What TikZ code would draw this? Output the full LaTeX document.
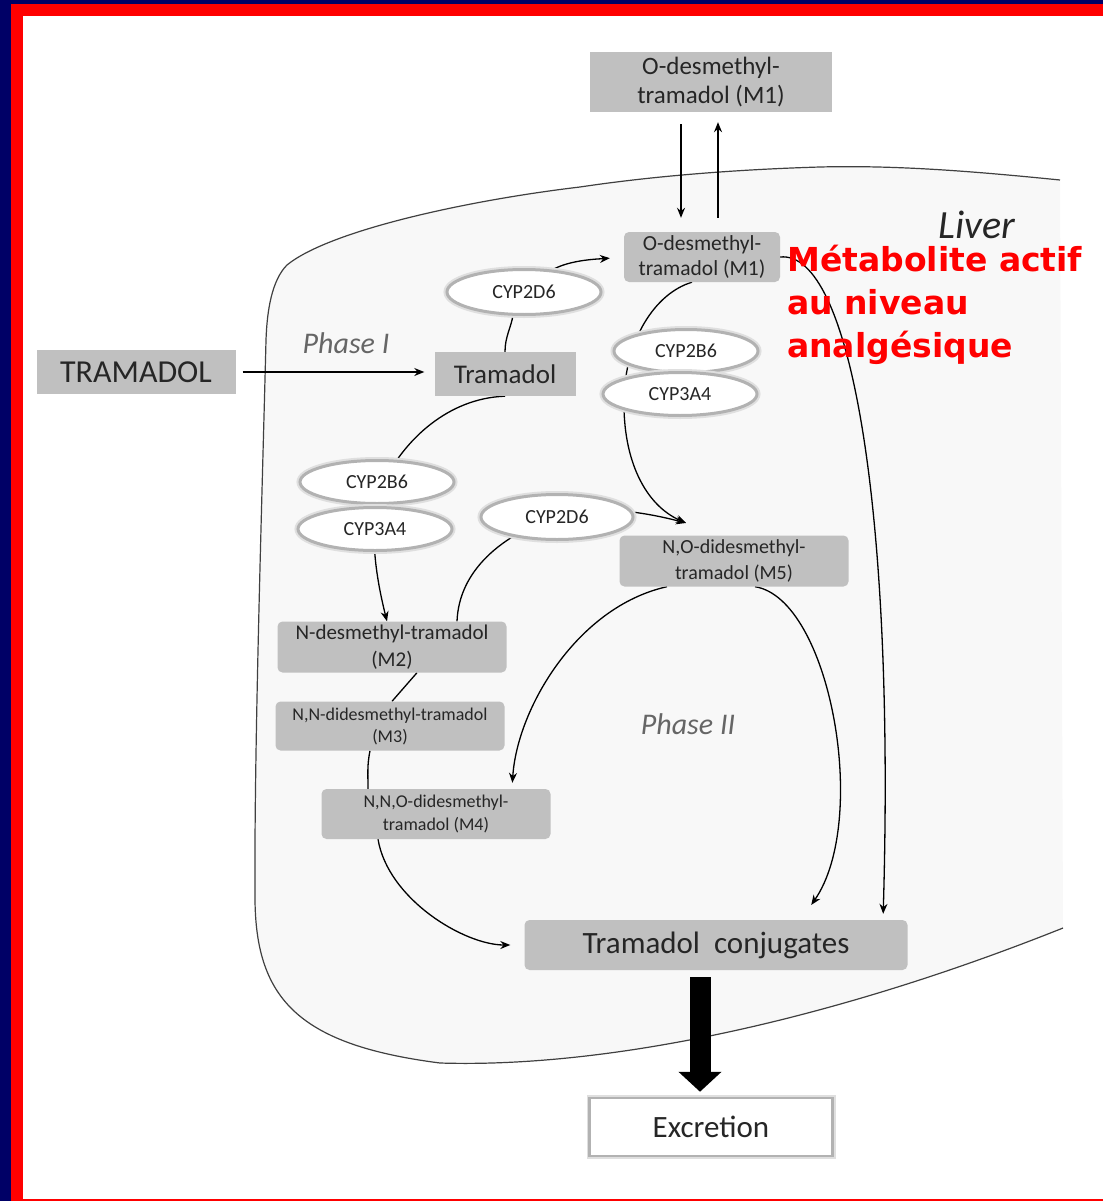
\documentclass[tikz,border=0pt]{standalone}
\usepackage{xcolor}
\usepackage{fontspec}
\setmainfont{Carlito}
\newfontfamily\redfont{DejaVu Sans}
\usepackage{tikz}
\usetikzlibrary{positioning,shapes.geometric,arrows.meta,backgrounds}

\definecolor{navy}{RGB}{0,0,102}
\definecolor{boxgray}{RGB}{192,192,192}
\definecolor{liverfill}{RGB}{248,248,248}

\begin{document}
\begin{tikzpicture}[x=1pt,y=-1pt,
    box/.style={fill=boxgray,text=black!85,inner sep=0pt,align=center},
    rbox/.style={box,rounded corners=5pt},
    enz/.style={ellipse,fill=white,draw=gray!60,line width=3pt,preaction={draw=gray!25,line width=7pt},
      inner sep=0pt,text=black!85,font=\fontsize{20}{24}\selectfont},
    arr/.style={line width=1.3pt,-{Stealth[length=10pt,width=8pt]}},
    lnk/.style={line width=1.3pt},
    phase/.style={text=black!60,font=\itshape\fontsize{30}{36}\selectfont}]
    \useasboundingbox (0,0) rectangle (1103,1201);

    \node [box,minimum width=199pt,minimum height=44pt,font=\fontsize{32}{38}\selectfont] (T0) at (136,372) {TRAMADOL};
    \node [box,minimum width=141pt,minimum height=44pt,font=\fontsize{27}{32}\selectfont] (T) at (505,374) {Tramadol};
    \node [box,minimum width=242pt,minimum height=60pt,font=\fontsize{25}{29}\selectfont] (M1o) at (711,82) {O-desmethyl-\\tramadol (M1)};
    \node [rbox,minimum width=156pt,minimum height=50pt,font=\fontsize{21.5}{25}\selectfont] (M1) at (702,257) {O-desmethyl-\\tramadol (M1)};
    \node [enz,minimum width=154pt,minimum height=45pt] (E1) at (524,292) {CYP2D6};
    \node [enz,minimum width=144pt,minimum height=43pt] (E2) at (686,351) {CYP2B6};
    \node [enz,minimum width=154pt,minimum height=43pt] (E3) at (680,394) {CYP3A4};
    \node [enz,minimum width=154pt,minimum height=43pt] (E4) at (377,482) {CYP2B6};
    \node [enz,minimum width=154pt,minimum height=43pt] (E5) at (375,529) {CYP3A4};
    \node [enz,minimum width=152pt,minimum height=45pt] (E6) at (557,517) {CYP2D6};
    \node [rbox,minimum width=229pt,minimum height=51pt,font=\fontsize{20}{26}\selectfont] (M5) at (734,561) {N,O-didesmethyl-\\tramadol (M5)};
    \node [rbox,minimum width=229pt,minimum height=51pt,font=\fontsize{21}{27}\selectfont] (M2) at (392,647) {N-desmethyl-tramadol\\(M2)};
    \node [rbox,minimum width=229pt,minimum height=49pt,font=\fontsize{18}{22}\selectfont] (M3) at (390,726) {N,N-didesmethyl-tramadol\\(M3)};
    \node [rbox,minimum width=229pt,minimum height=50pt,font=\fontsize{18}{23}\selectfont] (M4) at (436,814) {N,N,O-didesmethyl-\\tramadol (M4)};
    \node [rbox,minimum width=383pt,minimum height=50pt,font=\fontsize{31}{36}\selectfont] (C) at (716,945) {Tramadol\ \ conjugates};
    \node [box,fill=white,draw=gray!60,line width=2.5pt,preaction={draw=gray!25,line width=6pt},
      minimum width=243pt,minimum height=58pt,font=\fontsize{31}{36}\selectfont] (X) at (711,1127) {Excretion};
    \node [phase] (P1) at (346,343) {Phase I};
    \node [phase] (P2) at (688,724) {Phase II};
    \node [text=black!85,inner sep=0pt,font=\itshape\fontsize{40}{48}\selectfont] (L) at (977,225) {Liver};
    \node [anchor=base west,align=left,text=red,inner sep=0pt,font=\redfont\bfseries\fontsize{33}{43}\selectfont] (R) at (787,357) {Métabolite actif\\au niveau\\analgésique};
    \coordinate (m5in) at (686,523);

    \draw[line width=21pt,-{Triangle[length=20pt,width=42pt]},shorten <=7pt,shorten >=5pt] ([xshift=-16pt]C.south) -- ([xshift=-11pt]X.north);

    \begin{pgfonlayer}{background}
    \fill[white] (0,0) rectangle (1103,1201);
    % liver
    \fill[liverfill] (1060,180) .. controls (980,172) and (900,165) .. (820,167) .. controls (720,170) and (640,178) .. (580,187) .. controls (470,200) and (330,230) .. (287,265) .. controls (272,280) and (267,310) .. (266,340) .. controls (262,500) and (254,750) .. (255,900) .. controls (256,1000) and (300,1045) .. (440,1063) .. controls (600,1068) and (820,1025) .. (1063,928) -- cycle;
    \draw[black!75,line width=1.2pt] (1060,180) .. controls (980,172) and (900,165) .. (820,167) .. controls (720,170) and (640,178) .. (580,187) .. controls (470,200) and (330,230) .. (287,265) .. controls (272,280) and (267,310) .. (266,340) .. controls (262,500) and (254,750) .. (255,900) .. controls (256,1000) and (300,1045) .. (440,1063) .. controls (600,1068) and (820,1025) .. (1063,928);
    % phase I
    \draw[arr,shorten <=7pt,shorten >=10pt] (T0.east) -- (T0.east -| T.west);
    \draw[arr,shorten <=12pt,shorten >=14pt] ([xshift=-30pt]M1o.south) -- ([xshift=-21pt]M1.north);
    \draw[arr,shorten <=14pt,shorten >=10pt] ([xshift=16pt]M1.north) -- ([xshift=7pt]M1o.south);
    \draw[lnk] (T.north) .. controls +(0,-15) and +(-2,12) .. (E1.245);
    \draw[arr,shorten >=14pt] (E1.38) .. controls +(18,-10) and +(-25,2) .. (M1.west);
    \draw[arr] ([xshift=-10pt]M1.south) .. controls +(-37,11) and +(1,-60) .. (624,400) .. controls +(-1,60) and +(-41,-18) .. (m5in);
    \draw[arr] (T.south) .. controls +(-57,2) and +(20,-40) .. (385,480) .. controls +(-20,40) and +(-10,-40) .. ([xshift=-5pt]M2.north);
    \draw[arr] ([xshift=65pt]M2.north) .. controls +(2,-50) and +(-60,20) .. (560,515) .. controls +(40,-12) and +(-30,-8) .. (m5in);
    \draw[lnk] ([xshift=25pt]M2.south) -- ([xshift=2pt]M3.north);
    \draw[lnk] ([xshift=-20pt]M3.south) .. controls +(-3,15) and +(0,-15) .. ([xshift=-68pt]M4.north);
    % phase II
    \draw[arr,shorten >=14pt] ([xshift=-58pt]M4.south) .. controls +(10,60) and +(-60,0) .. (C.west);
    \draw[arr,shorten >=6pt] ([xshift=-67pt]M5.south) .. controls +(-90,20) and +(5,-80) .. ([xshift=76pt]M4.north);
    \draw[arr,shorten >=18pt] ([xshift=21pt]M5.south) .. controls +(75,12) and +(69,-100) .. ([xshift=85pt]C.north);
    \draw[arr,shorten >=6pt] (M1.east) .. controls +(70,-7) and +(12,-413) .. ([xshift=167pt]C.north);
    \end{pgfonlayer}

    % frame
    \fill[navy] (0,0) rectangle (11,1201);
    \fill[navy] (0,0) rectangle (1103,4);
    \fill[red] (11,4) rectangle (23,1201);
    \fill[red] (11,4) rectangle (1103,16);
    \fill[red] (23,1199) rectangle (1103,1201);
\end{tikzpicture}
\end{document}
